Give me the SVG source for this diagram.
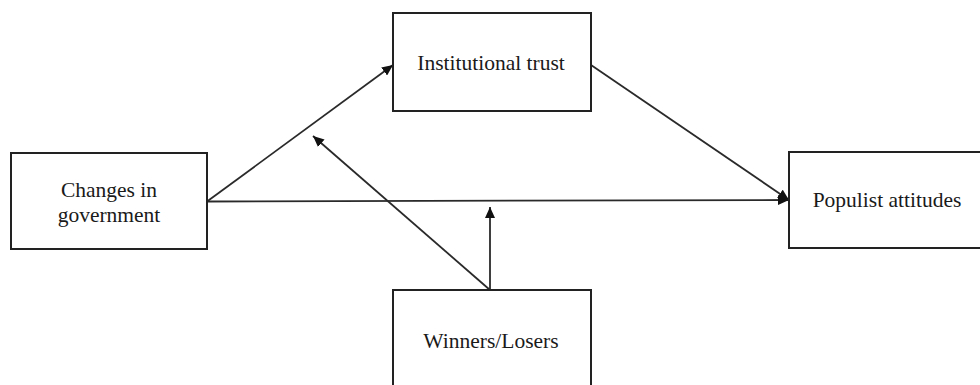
<svg xmlns="http://www.w3.org/2000/svg" width="980" height="385" viewBox="0 0 980 385">
  <style>
    .box { fill: #ffffff; stroke: #222222; stroke-width: 2; }
    .lbl { font-family: "Liberation Serif", "Times New Roman", serif; font-size: 21.5px; fill: #1a1a1a; text-anchor: middle; }
    .edge { stroke: #2a2a2a; stroke-width: 1.8; fill: none; }
    .arr { marker-end: url(#ah); }
  </style>
  <defs>
    <marker id="ah" markerUnits="userSpaceOnUse" markerWidth="12" markerHeight="10" refX="11" refY="5" orient="auto">
      <path d="M0,0 L11,5 L0,10 z" fill="#111111"/>
    </marker>
  </defs>
  <rect width="980" height="385" fill="#ffffff"/>

  <g id="connectors">
    <line class="edge arr" x1="207" y1="201.5" x2="393" y2="65"/>
    <line class="edge arr" x1="207" y1="201.5" x2="789" y2="200"/>
    <line class="edge arr" x1="591" y1="65" x2="789" y2="200"/>
    <line class="edge arr" x1="490" y1="290" x2="313" y2="136"/>
    <line class="edge arr" x1="490" y1="290" x2="490" y2="207"/>
  </g>

  <g id="node-changes">
    <rect class="box" x="11" y="153" width="196" height="96"/>
    <text class="lbl" x="109" y="197">Changes in</text>
    <text class="lbl" x="109" y="222">government</text>
  </g>

  <g id="node-institutional">
    <rect class="box" x="393" y="13" width="198" height="98"/>
    <text class="lbl" x="491" y="70">Institutional trust</text>
  </g>

  <g id="node-populist">
    <rect class="box" x="789" y="152" width="200" height="96"/>
    <text class="lbl" x="887" y="207">Populist attitudes</text>
  </g>

  <g id="node-winners">
    <rect class="box" x="393" y="290" width="198" height="110"/>
    <text class="lbl" x="491" y="348">Winners/Losers</text>
  </g>
</svg>
